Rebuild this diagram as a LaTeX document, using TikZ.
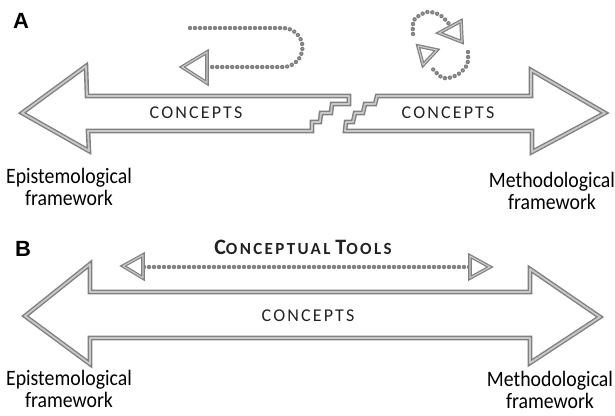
\documentclass[tikz,border=0pt]{standalone}
\usepackage{fontspec}
\setmainfont{Carlito}
\newfontfamily\spacedfont[LetterSpace=12]{Carlito}
\newfontfamily\toolsfont[LetterSpace=14]{Carlito}
\newfontfamily\panelfont{Liberation Sans}
\definecolor{rimdark}{HTML}{808080}
\definecolor{rimlight}{HTML}{C8C8C8}
\definecolor{beadgray}{HTML}{7E7E7E}
\definecolor{beadlight}{HTML}{A8A8A8}
\definecolor{inkgray}{HTML}{222222}
\newcommand{\narrow}[1]{\scalebox{0.9}[1]{#1}}
\tikzset{
  rim/.style={line join=round, draw=rimlight, line width=1.8pt,
    preaction={draw=rimdark, line width=4.6pt}},
  beads/.style={draw=beadlight, line width=1.3pt, line cap=round,
    dash pattern=on 0pt off 5pt,
    preaction={draw=beadgray, line width=4.4pt, line cap=round,
      dash pattern=on 0pt off 5pt}},
  tiphead/.style={line join=round, draw=rimlight, line width=1.2pt,
    preaction={draw=rimdark, line width=3.6pt}},
  panel/.style={font=\panelfont\bfseries\fontsize{22}{24}\selectfont},
  bandtext/.style={font=\spacedfont\fontsize{18}{20}\selectfont, text=inkgray},
  endlabel/.style={font=\fontsize{22}{21.5}\selectfont, align=center, inner sep=0pt}
}
\begin{document}
\begin{tikzpicture}[x=1pt,y=-1pt]
\useasboundingbox (0,0) rectangle (615,415);

% ---------- panel A ----------
\node[panel] (labA) at (21,21) {A};

% broken band, left half
\path[rim] (22,113) -- (86,66) -- (87,96) -- (349,96) -- (349,104) -- (332,104)
  -- (331,113) -- (321,113) -- (320,122) -- (312,122) -- (312,131) -- (88,131)
  -- (89,151) -- cycle;
% broken band, right half
\path[rim] (377,96) -- (531,96) -- (531,70) -- (605,113) -- (532,152) -- (532,131)
  -- (345,131) -- (346,122) -- (353,122) -- (355,113) -- (363,113) -- (365,104)
  -- (375,104) -- cycle;

\node[bandtext] (cA1) at (196,113) {CONCEPTS};
\node[bandtext] (cA2) at (448,113) {CONCEPTS};

\node[endlabel] (epiA) at (69,187) {\narrow{Epistemological}\\\narrow{framework}};
\node[endlabel] (metA) at (552,191) {\narrow{Methodological}\\\narrow{framework}};

% return loop
\coordinate (loopS) at (190,28);
\coordinate (loopE) at (211,67);
\draw[beads] (loopS) -- (283,28) arc[start angle=-90, end angle=90, radius=19.5] -- (loopE);
\path[tiphead] (182,67) -- (207,52) -- (207,83) -- cycle;

% cycle icon
\draw[beads] plot[smooth] coordinates {(413,34) (414,20) (427,12) (440,15) (449,24)};
\path[tiphead] (439,33) -- (461,21) -- (462,42) -- cycle;
\draw[beads] plot[smooth] coordinates {(468,52) (467,65) (457,75) (443,78) (431,67)};
\path[tiphead] (418,46) -- (437,50) -- (423,65) -- cycle;

% ---------- panel B ----------
\node[panel] (labB) at (23,249) {B};

\node[font=\toolsfont\bfseries, text=inkgray] (tools) at (303,247)
  {{\fontsize{22}{22}\selectfont C}{\fontsize{17}{22}\selectfont ONCEPTUAL}\hspace{5pt}{\fontsize{22}{22}\selectfont T}{\fontsize{17}{22}\selectfont OOLS}};

\coordinate (toolL) at (144,267);
\coordinate (toolR) at (470,267);
\draw[beads] (toolL) -- (toolR);
\path[tiphead] (123,266) -- (143,255) -- (143,278) -- cycle;
\path[tiphead] (490,267) -- (470,256) -- (470,278) -- cycle;

\path[rim] (25,316) -- (90,264) -- (90,292) -- (530,292) -- (530,269) -- (600,317)
  -- (530,363) -- (530,338) -- (90,338) -- (90,364) -- cycle;

\node[bandtext] (cB) at (308,316) {CONCEPTS};

\node[endlabel] (epiB) at (69,389) {\narrow{Epistemological}\\\narrow{framework}};
\node[endlabel] (metB) at (550,390) {\narrow{Methodological}\\\narrow{framework}};
\end{tikzpicture}
\end{document}
